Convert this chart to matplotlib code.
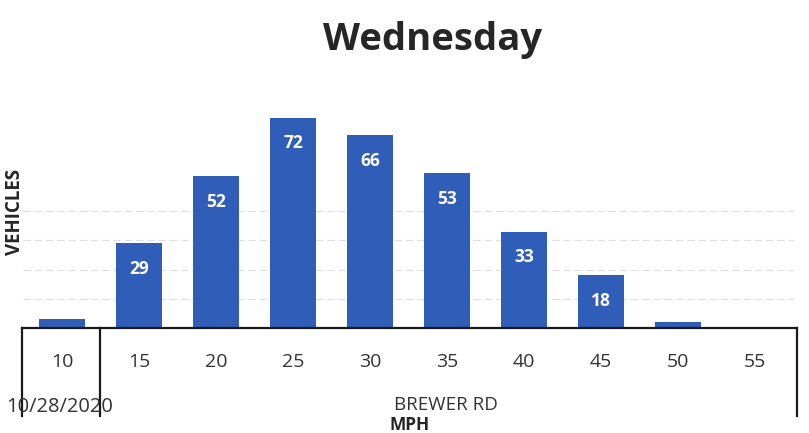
import matplotlib
matplotlib.use("Agg")
import matplotlib.pyplot as plt
from matplotlib.lines import Line2D

categories = ["10", "15", "20", "25", "30", "35", "40", "45", "50", "55"]
vehicles = [3, 29, 52, 72, 66, 53, 33, 18, 2, 0]
labels_shown = [None, "29", "52", "72", "66", "53", "33", "18", None, None]

W, H = 809, 433
fig = plt.figure(figsize=(W / 100, H / 100), dpi=100)
fig.patch.set_facecolor("white")

def fx(px):
    return px / W

def fy(py):
    return 1 - py / H

left, right = 23.4, 793.6
base, top = 328, 94.4
ax = fig.add_axes([fx(left), fy(base), fx(right) - fx(left), fy(top) - fy(base)])
x = list(range(len(categories)))
bars = ax.bar(x, vehicles, width=0.6, color="#2F5DB7", zorder=3)
ax.set_xlim(-0.5, len(categories) - 0.5)
ax.set_ylim(0, 80)
ax.set_yticks([10, 20, 30, 40])
ax.yaxis.grid(True, color="#e0e0e0", linewidth=0.9, linestyle=(0, (6, 3)), zorder=0)
for s in ax.spines.values():
    s.set_visible(False)
ax.tick_params(left=False, bottom=False, labelleft=False, labelbottom=False)

for xi, v, lab in zip(x, vehicles, labels_shown):
    if lab:
        ax.text(xi, v - 8.8, lab, ha="center", va="center", color="white",
                fontsize=12.5, fontweight="bold", family="Open Sans", zorder=4)

# category labels
for xi, c in zip(x, categories):
    px = left + (xi + 0.5) * (right - left) / len(categories)
    fig.text(fx(px), fy(362), c, ha="center", va="center", fontsize=14,
             color="#333333", family="Open Sans")

# table lines
lc = "#1a1a1a"
fig.add_artist(Line2D([fx(22), fx(797)], [fy(328), fy(328)], color=lc, lw=1.6))
for px in (22, 100, 797):
    fig.add_artist(Line2D([fx(px), fx(px)], [fy(328), fy(416)], color=lc, lw=1.6))

fig.text(fx(433), fy(40), "Wednesday", ha="center", va="center", fontsize=27.5,
         fontweight="bold", color="#262626", family="Open Sans")
fig.text(fx(15), fy(212), "VEHICLES", ha="center", va="center", rotation=90,
         fontsize=13.5, fontweight="bold", color="#262626", family="Open Sans")
fig.text(fx(60), fy(407), "10/28/2020", ha="center", va="center", fontsize=14.5,
         color="#333333", family="Open Sans")
fig.text(fx(446), fy(405), "BREWER RD", ha="center", va="center", fontsize=13.5,
         color="#333333", family="Open Sans")
fig.text(fx(410), fy(424.5), "MPH", ha="center", va="center", fontsize=12.5,
         fontweight="bold", color="#262626", family="Open Sans")

fig.savefig("out.png", dpi=100, facecolor="white")
